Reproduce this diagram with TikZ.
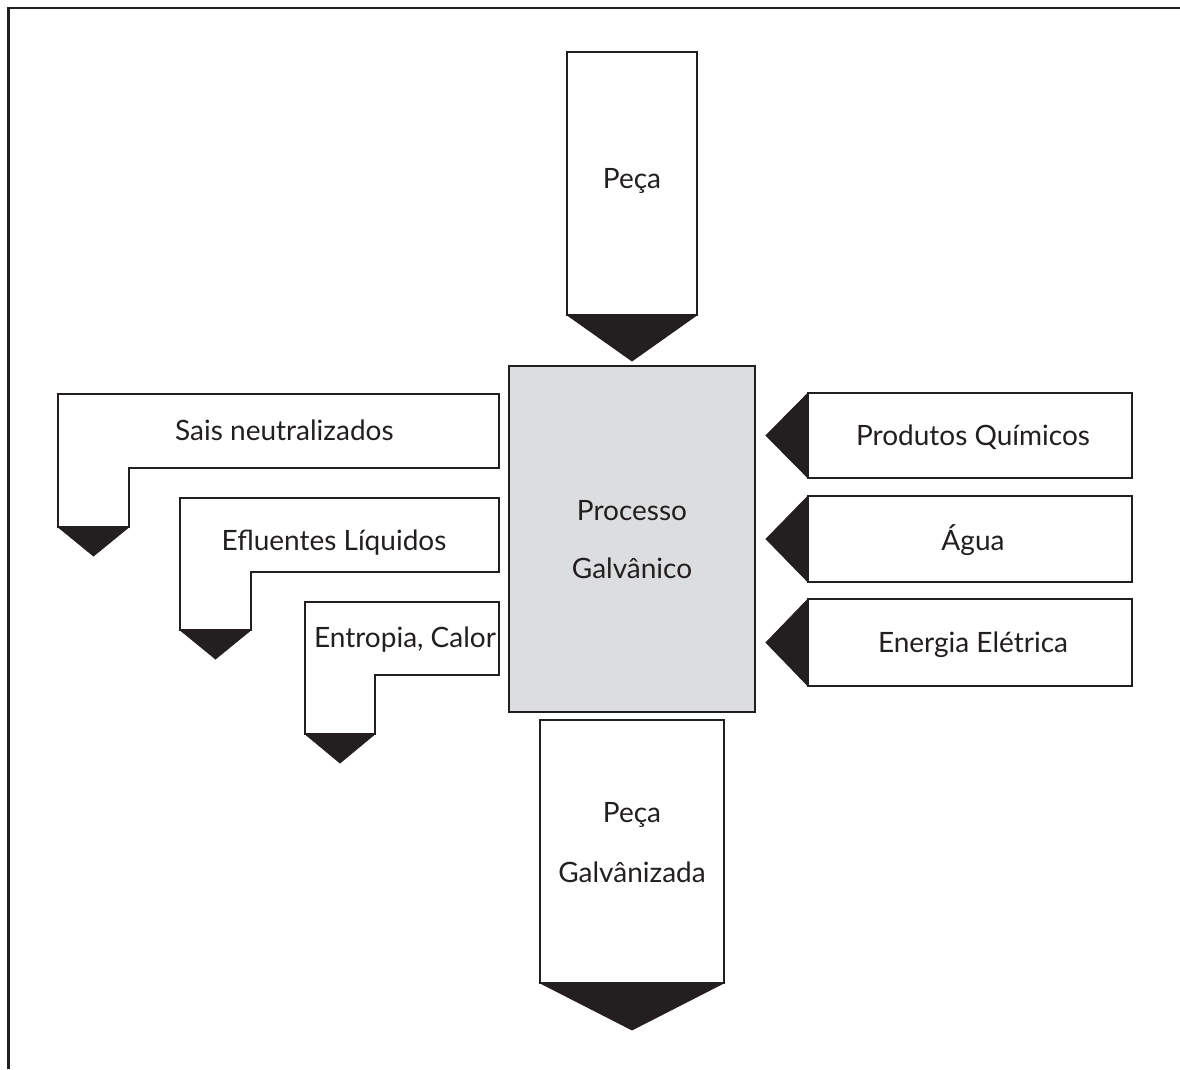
\documentclass[tikz,border=0pt]{standalone}
\usepackage{fontspec}
\setmainfont{Lato}
\definecolor{ink}{HTML}{231F20}
\definecolor{procfill}{HTML}{DCDDDF}
\begin{document}
\begin{tikzpicture}[x=1pt,y=-1pt,
  box/.style={draw=ink, line width=2pt, fill=white, line join=miter},
  proc/.style={draw=ink, line width=2pt, fill=procfill},
  tip/.style={fill=ink, draw=ink, line width=0.8pt, line join=miter},
  lbl/.style={font=\fontsize{28}{34}\selectfont, text=ink, inner sep=0pt, anchor=base}]
\useasboundingbox (0,0) rectangle (1180,1069);
\fill[white] (0,0) rectangle (1180,1069);
% frame
\draw[ink, line width=2pt] (7,8) -- (1180,8);
\draw[ink, line width=3pt] (8.5,7) -- (8.5,1069);

% top input: Peca
\draw[box] (567,52) rectangle (697,315);
\fill[tip] (567,315) -- (697,315) -- (632,361) -- cycle;
\node[lbl] (peca) at (632,188) {Peça};

% process
\draw[proc] (509,366) rectangle (755,712);
\node[lbl] (proc1) at (632,520) {Processo};
\node[lbl] (proc2) at (632,578) {Galvânico};

% bottom output
\draw[box] (540,720) rectangle (724,983);
\fill[tip] (540,983) -- (724,983) -- (632,1030) -- cycle;
\node[lbl] (out1) at (632,822) {Peça};
\node[lbl] (out2) at (632,882) {Galvânizada};

% right inputs
\foreach \t/\b/\n in {393/478/a, 496/582/b, 599/686/c}{
  \draw[box] (808,\t) rectangle (1132,\b);
  \fill[tip] (808,\t) -- (808,\b) -- (766,{(\t+\b)/2}) -- cycle;
}
\node[lbl] (quim) at (973,445) {Produtos Químicos};
\node[lbl] (agua) at (973,550) {Água};
\node[lbl] (ener) at (973,652) {Energia Elétrica};

% left outputs (L shapes)
\draw[box] (58,394) -- (499,394) -- (499,468) -- (129,468) -- (129,527) -- (58,527) -- cycle;
\fill[tip] (58,527) -- (129,527) -- (93.5,556) -- cycle;
\draw[box] (180,498) -- (499,498) -- (499,572) -- (251,572) -- (251,630) -- (180,630) -- cycle;
\fill[tip] (180,630) -- (251,630) -- (215.5,659) -- cycle;
\draw[box] (305,602) -- (499,602) -- (499,675) -- (375,675) -- (375,734) -- (305,734) -- cycle;
\fill[tip] (305,734) -- (375,734) -- (340,763) -- cycle;
\node[lbl, anchor=base west] (sais) at (175,440) {Sais neutralizados};
\node[lbl] (eflu) at (334,550) {Efluentes Líquidos};
\node[lbl] (entr) at (405,647) {Entropia, Calor};
\end{tikzpicture}
\end{document}
